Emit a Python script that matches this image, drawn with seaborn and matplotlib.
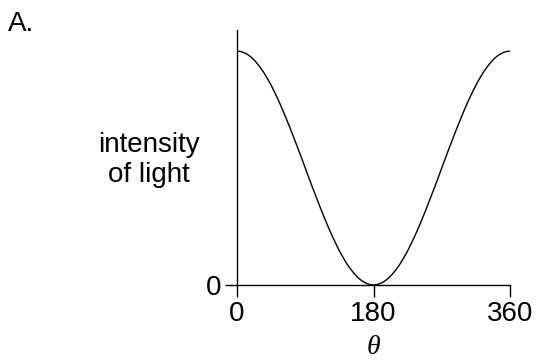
import pandas as pd
import matplotlib.pyplot as plt
import seaborn as sns

# valores (intensidad relativa), cada 5 grados
theta = list(range(0, 361, 5))
mitad = [1.000, 0.998, 0.992, 0.983, 0.970, 0.953, 0.933, 0.910, 0.883, 0.854,
         0.821, 0.787, 0.750, 0.711, 0.671, 0.629, 0.587, 0.544, 0.500, 0.456,
         0.413, 0.371, 0.329, 0.289, 0.250, 0.213, 0.179, 0.146, 0.117, 0.090,
         0.067, 0.047, 0.030, 0.017, 0.008, 0.002, 0.000]
intensidad = mitad + mitad[-2::-1]   # la curva es simétrica respecto a 180
xticks = [0, 180, 360]
yticks = [0]

data = pd.DataFrame({"theta": theta, "intensidad": intensidad})

sns.set_style("ticks")
plt.rcParams['font.family'] = ['Liberation Sans', 'DejaVu Sans']
plt.rcParams['text.color'] = 'black'
plt.rcParams['axes.labelcolor'] = 'black'
plt.rcParams['xtick.color'] = 'black'
plt.rcParams['ytick.color'] = 'black'

fig = plt.figure(figsize=(5.36, 3.61), dpi=100)
ax = fig.add_axes([0.4422, 0.2105, 0.9515 - 0.4422, 0.9169 - 0.2105])

sns.lineplot(data=data, x="theta", y="intensidad", ax=ax, color="black", linewidth=1.0)

ax.set_xlim(0, 360)
ax.set_ylim(0, 1.09)
ax.set_xticks(xticks)
ax.set_yticks(yticks)
ax.tick_params(labelsize=20, length=8.5, width=1.0, color="black", pad=3)
sns.despine(ax=ax)
for s in ["left", "bottom"]:
    ax.spines[s].set_linewidth(1.0)
    ax.spines[s].set_color("black")

ax.set_xlabel("θ", family=['Liberation Serif', 'DejaVu Serif'], style="italic", fontsize=20, labelpad=6)
ax.set_ylabel("")

fig.text(149 / 536, 1 - 160 / 361, "intensity\nof light", ha="center", va="center", fontsize=20)
fig.text(8 / 536, 1 - 11 / 361, "A.", ha="left", va="top", fontsize=20)

fig.savefig("out.png", dpi=100)
